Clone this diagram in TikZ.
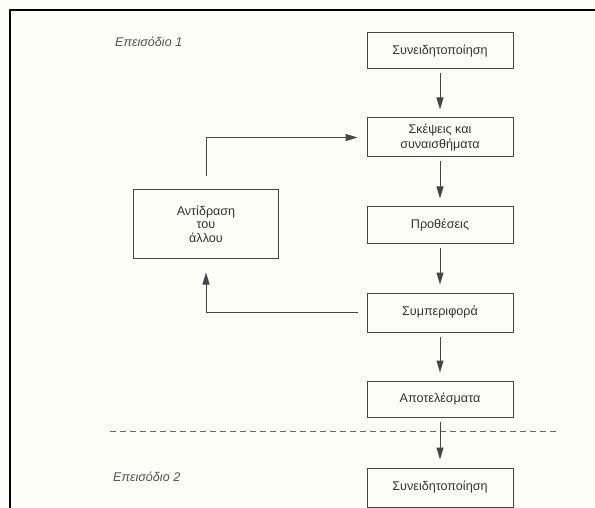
\documentclass[tikz,border=0pt]{standalone}
\usepackage{fontspec}
\setmainfont{Liberation Sans}
\usetikzlibrary{arrows.meta}
\definecolor{paper}{RGB}{254,254,249}
\definecolor{ink}{RGB}{50,50,50}
\definecolor{rule}{RGB}{70,70,70}
\tikzset{
  stage/.style={draw=rule, line width=1pt, minimum width=146pt, inner sep=0pt,
                align=center, text=ink, font=\fontsize{12.6}{14.5}\selectfont},
  flow/.style={draw=rule, line width=1pt, -{Triangle[length=12pt,width=7pt]}},
  episode/.style={anchor=west, text=ink!85, font=\fontsize{12.6}{14.5}\selectfont\itshape, inner sep=0pt},
}
\begin{document}
\begin{tikzpicture}[x=1pt,y=-1pt]
  % page and frame
  \fill[paper] (0,0) rectangle (595,508);
  \useasboundingbox (0,0) rectangle (595,508);
  \draw[black, line width=2pt] (595,10) -- (10,10) -- (10,509);

  % episode labels
  \node[episode] (ep1) at (115,42) {Επεισόδιο 1};
  \node[episode] (ep2) at (113,477) {Επεισόδιο 2};

  % main sequence
  \node[stage, minimum height=36pt] (b1) at (440,51)    {Συνειδητοποίηση};
  \node[stage, minimum height=39pt] (b2) at (440,137.5) {Σκέψεις και\\συναισθήματα};
  \node[stage, minimum height=37pt] (b3) at (440,225.5) {Προθέσεις};
  \node[stage, minimum height=39pt] (b4) at (440,312.5) {Συμπεριφορά};
  \node[stage, minimum height=36pt] (b5) at (440,399)   {Αποτελέσματα};
  \node[stage, minimum height=39pt] (b6) at (440,487.5) {Συνειδητοποίηση};

  % the other's reaction
  \node[stage, minimum width=145pt, minimum height=68pt,
        font=\fontsize{12.6}{13.5}\selectfont] (lb) at (206,224)
       {Αντίδραση\\του\\άλλου};

  % episode separator
  \coordinate (sepL) at (110,431);
  \coordinate (sepR) at (557,431);
  \draw[rule!80, line width=0.8pt, dash pattern=on 6pt off 4pt] (sepL) -- (sepR);

  % downward arrows
  \foreach \a/\b in {b1/b2, b2/b3, b3/b4, b4/b5, b5/b6}
    \draw[flow, shorten <=4pt, shorten >=8pt] (\a.south) -- (\b.north);

  % feedback loop
  \draw[flow, shorten <=9pt, shorten >=14pt] (b4.west) -| (lb.south);
  \draw[flow, shorten <=13pt, shorten >=9pt] (lb.north) |- (b2.west);
\end{tikzpicture}
\end{document}
